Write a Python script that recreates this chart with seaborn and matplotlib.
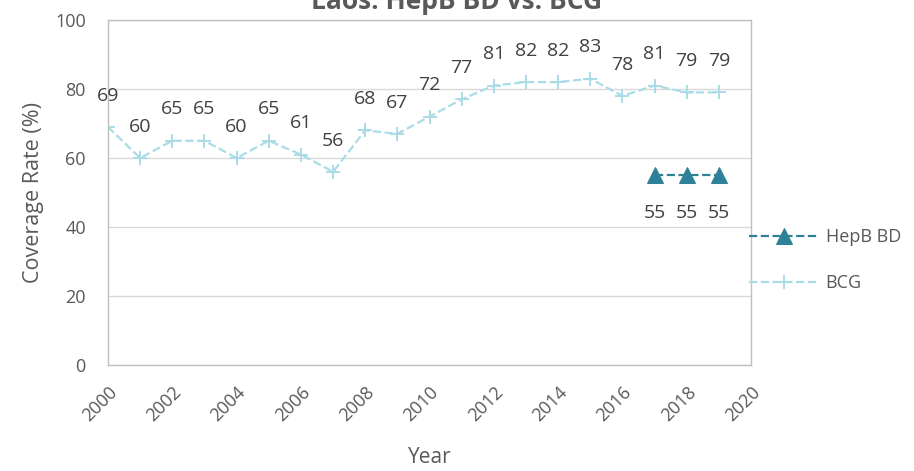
import matplotlib
matplotlib.use("Agg")
import matplotlib.pyplot as plt
import seaborn as sns
import pandas as pd

years = list(range(2000, 2020))
bcg = [69, 60, 65, 65, 60, 65, 61, 56, 68, 67, 72, 77, 81, 82, 82, 83, 78, 81, 79, 79]
hepb_years = [2017, 2018, 2019]
hepb = [55, 55, 55]
x_ticks = list(range(2000, 2021, 2))
y_ticks = [0, 20, 40, 60, 80, 100]

sns.set_theme(style="white")
plt.rcParams['font.family'] = ['Open Sans', 'DejaVu Sans']

TXT = "#595959"
LBL = "#404040"
BCG_C = "#a9dce7"
HEP_C = "#2f8197"

fig = plt.figure(figsize=(9.14, 4.71), dpi=100)
ax = fig.add_axes([108/914, 1 - 365/471, (751-108)/914, (365-20)/471])

df_b = pd.DataFrame({"Year": years, "Coverage": bcg})
df_h = pd.DataFrame({"Year": hepb_years, "Coverage": hepb})

sns.lineplot(data=df_h, x="Year", y="Coverage", ax=ax, color=HEP_C, linestyle="--",
             marker="^", markersize=11, markeredgecolor=HEP_C, linewidth=1.6, label="HepB BD")
sns.lineplot(data=df_b, x="Year", y="Coverage", ax=ax, color=BCG_C, linestyle="--",
             marker="+", markersize=10, markeredgewidth=1.4, markeredgecolor=BCG_C,
             linewidth=1.6, label="BCG")

for x, y in zip(years, bcg):
    ax.annotate(str(y), (x, y), xytext=(0, 22.5), textcoords="offset points",
                ha="center", va="center", fontsize=14, color=LBL)
for x, y in zip(hepb_years, hepb):
    ax.annotate(str(y), (x, y), xytext=(0, -27), textcoords="offset points",
                ha="center", va="center", fontsize=14, color=LBL)

ax.set_xlim(2000, 2020)
ax.set_ylim(0, 100)
ax.set_xticks(x_ticks)
ax.set_yticks(y_ticks)
ax.set_xticklabels([str(t) for t in x_ticks], rotation=45, ha="right",
                   rotation_mode="anchor", fontsize=13, color=TXT)
ax.set_yticklabels([str(t) for t in y_ticks], fontsize=13, color=TXT)
ax.tick_params(axis="y", length=0, pad=16)
ax.tick_params(axis="x", length=0, pad=13)
ax.grid(axis="y", color="#d9d9d9", linewidth=1)
for s in ax.spines.values():
    s.set_visible(True)
    s.set_color("#bfbfbf")
    s.set_linewidth(1)
ax.set_xlabel("Year", fontsize=15, color=TXT, labelpad=16)
ax.set_ylabel("Coverage Rate (%)", fontsize=15.5, color=TXT, labelpad=8)
fig.text(457/914, 1 - 9/471, "Laos: HepB BD vs. BCG", ha="center", va="baseline",
         fontsize=19, fontweight="bold", color=TXT)

leg = ax.legend(loc="upper left", bbox_to_anchor=(749/914, 1 - 228/471),
                bbox_transform=fig.transFigure, frameon=False,
                fontsize=13, labelcolor=TXT, handlelength=3.9, labelspacing=1.55,
                borderaxespad=0.0, borderpad=0.0, handletextpad=0.35)

fig.savefig("out.png", dpi=100)
